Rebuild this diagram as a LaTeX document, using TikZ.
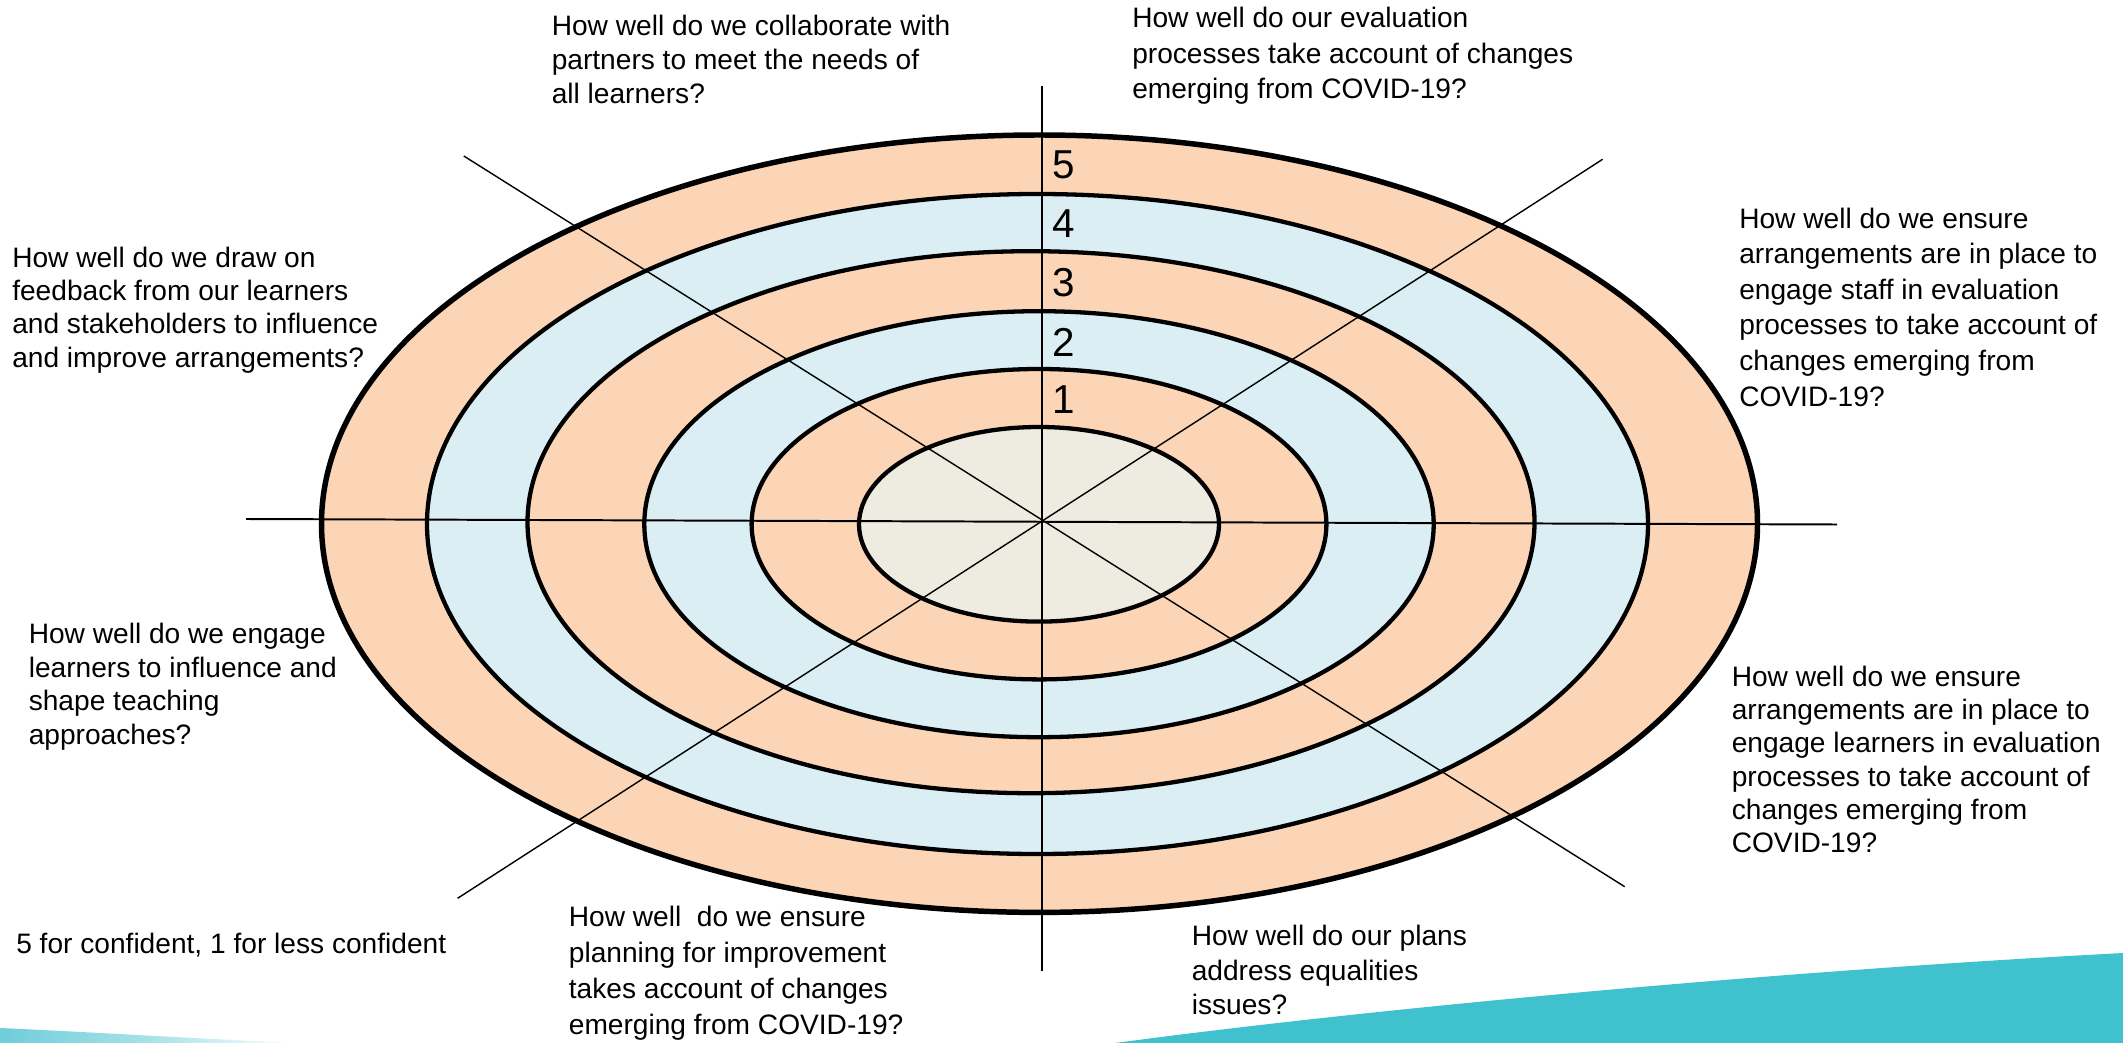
\documentclass[tikz,border=0pt]{standalone}
\usepackage{fontspec}
\setmainfont{Liberation Sans}
\definecolor{peach}{HTML}{FBD5B5}
\definecolor{paleblue}{HTML}{DAEEF3}
\definecolor{tan}{HTML}{EEECE1}
\definecolor{seablue}{HTML}{40C2CE}
\definecolor{lightsea}{HTML}{6ECED9}
\tikzset{
band/.style={line width=3.05pt},
axis/.style={line width=1.4pt},
spoke/.style={line width=1pt},
question/.style={anchor=north west,inner sep=0pt,align=left,font=\fontsize{20}{#1}\selectfont},
question/.default=23.8pt,
score/.style={anchor=base west,inner sep=0pt,font=\fontsize{28.7}{30}\selectfont}
}
\providecommand{\Band}[4]{
\draw[band,fill=#4] (#1) ellipse [x radius=#2,y radius=#3];
}
\providecommand{\Rim}[4]{
\draw[band,line width=3.9pt,fill=#4] (#1) ellipse [x radius=#2,y radius=#3];
}
\begin{document}
\begin{tikzpicture}[x=0.025cm,y=-0.025cm]
\useasboundingbox (0,0) rectangle (2123,1043);
\fill[seablue] (1115,1043) .. controls (1400,1005) and (1800,970) .. (2123,953) -- (2123,1043) -- cycle;
\shade[left color=lightsea,right color=white,middle color=lightsea!60] (0,1043) -- (0,1028) .. controls (110,1033) and (200,1039) .. (300,1043) -- cycle;
\Rim{1039.5,523.7}{718}{388.7}{peach}
\Band{1037.5,524}{610.5}{330}{paleblue}
\Band{1031,522.2}{503.5}{271}{peach}
\Band{1039,524.2}{394.7}{213}{paleblue}
\Band{1039,524.2}{287.4}{155.2}{peach}
\Band{1039,524.3}{180}{97.3}{tan}
\coordinate (top) at (1042,86);
\coordinate (bottom) at (1042,971);
\coordinate (left) at (246,519);
\coordinate (right) at (1837,524.5);
\coordinate (nw) at (463.8,156);
\coordinate (se) at (1624.7,886.7);
\coordinate (ne) at (1602.6,159.3);
\coordinate (sw) at (457.6,898.3);
\draw[axis] (top) -- (bottom);
\draw[axis] (left) -- (right);
\draw[spoke] (nw) -- (se);
\draw[spoke] (ne) -- (sw);
\node[score] (s5) at (1052,179) {5};
\node[score] (s4) at (1052,238) {4};
\node[score] (s3) at (1052,297) {3};
\node[score] (s2) at (1052,357) {2};
\node[score] (s1) at (1052,413) {1};
\node[question=24.2pt] (partners) at (551.5,15) {How well do we collaborate with\\partners to meet the needs of\\all learners?};
\node[question=25.3pt] (evaluation) at (1132,7) {How well do our evaluation\\processes take account of changes\\emerging from COVID-19?};
\node[question=25.3pt] (staff) at (1739,207.5) {How well do we ensure\\arrangements are in place to\\engage staff in evaluation\\processes to take account of\\changes emerging from\\COVID-19?};
\node[question=23.7pt] (learners) at (1731.5,665.6) {How well do we ensure\\arrangements are in place to\\engage learners in evaluation\\processes to take account of\\changes emerging from\\COVID-19?};
\node[question] (feedback) at (12,246.4) {How well do we draw on\\feedback from our learners\\and stakeholders to influence\\and improve arrangements?};
\node[question] (teaching) at (28.5,623) {How well do we engage\\learners to influence and\\shape teaching\\approaches?};
\node[question=25.6pt] (planning) at (568.6,906) {How well~ do we ensure\\planning for improvement\\takes account of changes\\emerging from COVID-19?};
\node[question=24.5pt] (equalities) at (1191.5,925) {How well do our plans\\address equalities\\issues?};
\node[score,font=\fontsize{20}{24}\selectfont] (key) at (16,953) {5 for confident, 1 for less confident};
\end{tikzpicture}
\end{document}
